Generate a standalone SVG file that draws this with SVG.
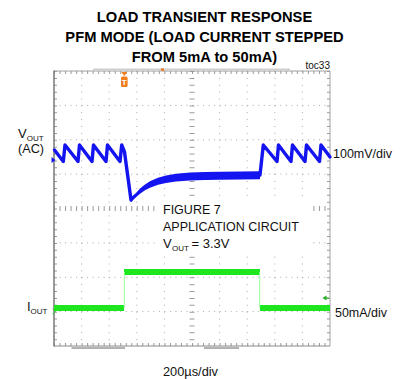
<svg xmlns="http://www.w3.org/2000/svg" width="401" height="379" viewBox="0 0 401 379">
<defs>
<style>
.title{font-family:"Liberation Sans",Arial,sans-serif;font-weight:bold;font-size:14.7px;fill:#000;text-anchor:middle}
.lbl{font-family:"Liberation Sans",Arial,sans-serif;font-size:13px;fill:#111}
.sub{font-family:"Liberation Sans",Arial,sans-serif;font-size:8px;fill:#111}
.hdot{stroke:#a8a8a8;stroke-width:1;stroke-dasharray:1 4.52;fill:none}
.vdot{stroke:#a8a8a8;stroke-width:1;stroke-dasharray:1 5.875;fill:none}
.htick{stroke:#9a9a9a;stroke-dasharray:1 4.52;fill:none}
.vtick{stroke:#9a9a9a;stroke-dasharray:1 5.875;fill:none}
.blue{stroke:#1414f0;stroke-width:3.4;fill:none;stroke-linejoin:round;stroke-linecap:round}
.green{fill:#1ee61e}
</style>
</defs>
<rect width="401" height="379" fill="#fff"/>
<g id="title">
<text class="title" x="204.5" y="21.5">LOAD TRANSIENT RESPONSE</text>
<text class="title" x="204.5" y="42.3">PFM MODE (LOAD CURRENT STEPPED</text>
<text class="title" x="204.5" y="62.3">FROM 5mA to 50mA)</text>
</g>
<text id="toc" x="330" y="68.5" font-family="Liberation Sans, Arial, sans-serif" font-size="10" text-anchor="end" fill="#111">toc33</text>
<g id="grid">
<line x1="93" y1="69.3" x2="290" y2="69.3" stroke="#cfcfcf" stroke-width="1.5"/>
<g class="hdot">
<line x1="54" y1="105.4" x2="330" y2="105.4"/>
<line x1="54" y1="139.8" x2="330" y2="139.8"/>
<line x1="54" y1="174.1" x2="330" y2="174.1"/>
<line x1="54" y1="242.9" x2="330" y2="242.9"/>
<line x1="54" y1="277.3" x2="330" y2="277.3"/>
<line x1="54" y1="311.6" x2="330" y2="311.6"/>
</g>
<g class="vdot">
<line x1="81.6" y1="71" x2="81.6" y2="346"/>
<line x1="109.2" y1="71" x2="109.2" y2="346"/>
<line x1="136.8" y1="71" x2="136.8" y2="346"/>
<line x1="164.4" y1="71" x2="164.4" y2="346"/>
<line x1="219.6" y1="71" x2="219.6" y2="346"/>
<line x1="247.2" y1="71" x2="247.2" y2="346"/>
<line x1="274.8" y1="71" x2="274.8" y2="346"/>
<line x1="302.4" y1="71" x2="302.4" y2="346"/>
</g>
<line class="htick" x1="54" y1="72.5" x2="330" y2="72.5" stroke-width="3"/>
<line class="htick" x1="54" y1="344.5" x2="330" y2="344.5" stroke-width="3"/>
<line class="vtick" x1="55.5" y1="71" x2="55.5" y2="346" stroke-width="3"/>
<line class="vtick" x1="328.5" y1="71" x2="328.5" y2="346" stroke-width="3"/>
<line class="htick" x1="54" y1="208.5" x2="330" y2="208.5" stroke-width="5"/>
<line class="vtick" x1="192" y1="71" x2="192" y2="346" stroke-width="5"/>
<line x1="54" y1="71" x2="330" y2="71" stroke="#a0a0a0" stroke-width="1"/>
<line x1="330" y1="71" x2="330" y2="346" stroke="#a0a0a0" stroke-width="1"/>
<line x1="54" y1="70.5" x2="54" y2="346.5" stroke="#777" stroke-width="1.5"/>
<line x1="54" y1="346" x2="330" y2="346" stroke="#8a8a8a" stroke-width="1.2"/>
<line x1="71.5" y1="347.9" x2="125" y2="347.9" stroke="#999" stroke-width="1.5"/>
<line x1="204" y1="347.9" x2="239" y2="347.9" stroke="#999" stroke-width="1.5"/>
<rect x="157" y="196" width="153" height="57" fill="#fff"/>
</g>
<g id="markers">
<polygon points="121.3,72 127.3,72 124.3,76" fill="#f07d1e"/>
<rect x="121" y="76.5" width="6.6" height="10.5" rx="1.5" fill="#f07d1e"/>
<text x="124.3" y="84.8" font-family="Liberation Sans, Arial, sans-serif" font-weight="bold" font-size="8" fill="#fff" text-anchor="middle">T</text>
<rect x="161" y="68.3" width="3" height="2.6" fill="#f07d1e"/>
<polygon points="51.5,157 55.5,160 51.5,163" fill="#1414f0"/>
<polyline points="52.5,309 55.5,311.5 52.5,314" fill="none" stroke="#3c3" stroke-width="1"/>
<polygon points="322.5,298 326.5,295.5 326.5,300.5" fill="#2a2"/>
<line x1="326" y1="298" x2="329" y2="298" stroke="#2a2" stroke-width="1"/>
</g>
<g id="waveforms">
<path class="blue" d="M54.5,150 L63.3,161.5 L65,145 L78,161.5 L79.5,145 L92,161.5 L93.5,145 L106,161.5 L107.5,145 L120,161.5 L121.7,145 L124.5,152 L131,200"/>
<polygon fill="#1414f0" points="130,198 136,192.9 140,188.6 145,184.5 150,181.3 158,177.8 166,175.5 176,173.8 190,172.6 205,171.9 220,171.7 240,171.4 260,171.3 260,179.3 240,179.4 220,179.7 205,179.9 190,180.4 176,181.4 166,182.9 158,184.8 150,187.7 145,190.3 140,193.8 136,197.3 131,202"/>
<path class="blue" d="M260,175 L263.3,145 L277,161.5 L278.5,145 L291,161.5 L292.5,145 L305,161.5 L306.5,145 L319.5,161.5 L321,145 L330,157"/>
<rect class="green" x="54" y="305" width="70" height="6"/>
<rect class="green" x="124" y="269" width="136" height="6"/>
<rect class="green" x="260" y="305" width="70" height="6"/>
<line x1="124.3" y1="272" x2="124.3" y2="308" stroke="#9f9" stroke-width="1"/>
<line x1="259.7" y1="272" x2="259.7" y2="308" stroke="#9f9" stroke-width="1"/>
</g>
<g id="labels">
<text class="lbl" x="18" y="137.5">V</text><text class="sub" x="26.7" y="140.5">OUT</text>
<text class="lbl" x="18" y="153" textLength="26" lengthAdjust="spacingAndGlyphs">(AC)</text>
<text class="lbl" x="333" y="157.5" textLength="59" lengthAdjust="spacingAndGlyphs">100mV/div</text>
<text class="lbl" x="163" y="214" textLength="57.7" lengthAdjust="spacingAndGlyphs">FIGURE 7</text>
<text class="lbl" x="163" y="230.5" textLength="136" lengthAdjust="spacingAndGlyphs">APPLICATION CIRCUIT</text>
<text class="lbl" x="163" y="248">V</text><text class="sub" x="172" y="251">OUT</text><text class="lbl" x="191.5" y="248">= 3.3V</text>
<text class="lbl" x="27" y="310.5">I</text><text class="sub" x="30.5" y="313.5">OUT</text>
<text class="lbl" x="335" y="316.5" textLength="52" lengthAdjust="spacingAndGlyphs">50mA/div</text>
<text class="lbl" x="163" y="376" textLength="55" lengthAdjust="spacingAndGlyphs">200µs/div</text>
</g>
</svg>
